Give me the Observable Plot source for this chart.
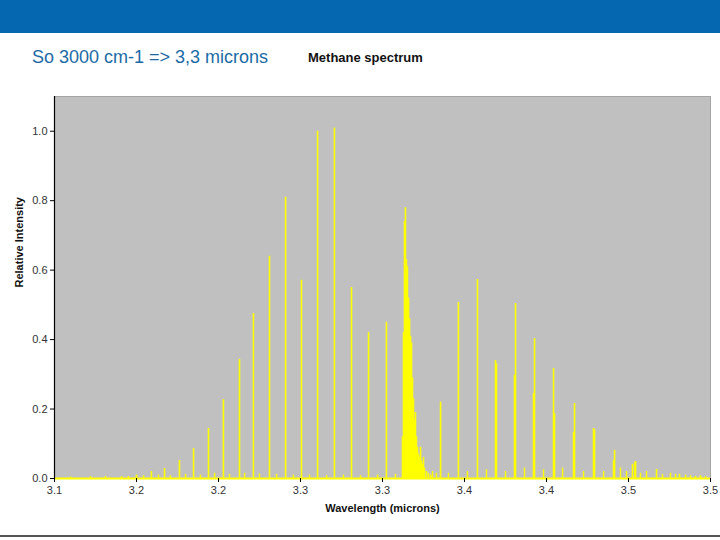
<!DOCTYPE html>
<html>
<head>
<meta charset="utf-8">
<script src="https://cdn.jsdelivr.net/npm/d3@7"></script>
<script src="https://cdn.jsdelivr.net/npm/@observablehq/plot@0.6"></script>
<style>
  html, body { margin: 0; padding: 0; background: #fff; }
  #page { position: relative; width: 720px; height: 540px; overflow: hidden; }
  #bar { position: absolute; left: 0; top: 0; width: 720px; height: 33px; background: #0467b0; }
  #note { position: absolute; left: 32px; top: 47px; font: 18px "Liberation Sans", Arial, sans-serif; color: #1b6aa5; white-space: nowrap; }
  #title { position: absolute; left: 308px; top: 50px; font: bold 13px "Liberation Sans", Arial, sans-serif; color: #111; white-space: nowrap; }
  #chart { position: absolute; left: 0; top: 80px; }
  #foot { position: absolute; left: 0; top: 535px; width: 720px; height: 2px; background: #555; }
</style>
</head>
<body>
<div id="page">
  <div id="bar"></div>
  <div id="note">So 3000 cm-1 =&gt; 3,3 microns</div>
  <div id="title">Methane spectrum</div>
  <div id="chart"></div>
  <div id="foot"></div>
</div>
<script>
// Strong rovibrational lines (wavelength in microns, relative intensity)
const mainWavelength = [3.1409, 3.1500, 3.1591, 3.1671, 3.1762, 3.1848, 3.1939, 3.2030, 3.2128, 3.2213,
  3.2311, 3.2409, 3.2506, 3.2604, 3.2707, 3.2811, 3.2915, 3.3024,
  3.3354, 3.3463, 3.3579, 3.3689, 3.3811, 3.3927, 3.4043, 3.4171, 3.4287, 3.4415, 3.4543, 3.4671, 3.4811, 3.4939];
const mainIntensity = [0.005, 0.010, 0.020, 0.029, 0.052, 0.086, 0.144, 0.227, 0.343, 0.475,
  0.640, 0.810, 0.571, 1.000, 1.009, 0.550, 0.420, 0.450,
  0.220, 0.507, 0.573, 0.340, 0.504, 0.403, 0.317, 0.216, 0.144, 0.081, 0.049, 0.026, 0.012, 0.008];

// Secondary (multiplet) components
const secondWavelength = [3.3695, 3.3805, 3.3921, 3.4049, 3.4165, 3.4293, 3.4409, 3.4537];
const secondIntensity  = [0.330, 0.297, 0.245, 0.187, 0.133, 0.140, 0.052, 0.045];

// Q-branch cluster
const qWavelength = [3.3122, 3.3128, 3.3134, 3.3140, 3.3146, 3.3152, 3.3159, 3.3165, 3.3171, 3.3177,
  3.3183, 3.3189, 3.3195, 3.3201, 3.3207, 3.3213, 3.3220, 3.3226, 3.3232, 3.3238,
  3.3244, 3.3250, 3.3256, 3.3268, 3.3280, 3.3293];
const qIntensity = [0.12, 0.42, 0.74, 0.78, 0.63, 0.61, 0.52, 0.46, 0.41, 0.39,
  0.29, 0.23, 0.17, 0.19, 0.12, 0.09, 0.07, 0.06, 0.09, 0.05,
  0.04, 0.06, 0.03, 0.02, 0.015, 0.01];

// Weak lines along the baseline
const weakWavelength = [3.1098, 3.1220, 3.1311, 3.1451, 3.1543, 3.1634, 3.1707, 3.1799, 3.1890, 3.1976,
  3.2067, 3.2159, 3.2250, 3.2354, 3.2457, 3.2555, 3.2659, 3.2762, 3.2866, 3.2970,
  3.3079, 3.3305, 3.3329, 3.3402, 3.3518, 3.3634, 3.3750, 3.3866, 3.3982, 3.4098,
  3.4226, 3.4348, 3.4451, 3.4488, 3.4524, 3.4573, 3.4610, 3.4707, 3.4756, 3.4787,
  3.4848, 3.4878, 3.4909, 3.4970];
const weakIntensity = [0.004, 0.005, 0.006, 0.006, 0.008, 0.010, 0.008, 0.012, 0.010, 0.015,
  0.012, 0.015, 0.013, 0.012, 0.010, 0.010, 0.008, 0.010, 0.008, 0.010,
  0.012, 0.020, 0.015, 0.015, 0.020, 0.025, 0.020, 0.030, 0.025, 0.030,
  0.020, 0.020, 0.030, 0.020, 0.040, 0.015, 0.020, 0.012, 0.015, 0.012,
  0.010, 0.008, 0.006, 0.005];

const xTicks = [3.10, 3.15, 3.20, 3.25, 3.30, 3.35, 3.40, 3.45, 3.50];
const xTickLabels = ["3.1", "3.2", "3.2", "3.3", "3.3", "3.4", "3.4", "3.5", "3.5"];
const yTicks = [0, 0.2, 0.4, 0.6, 0.8, 1.0];
const yTickLabels = ["0.0", "0.2", "0.4", "0.6", "0.8", "1.0"];

const toRows = (ws, vs) => ws.map((w, i) => ({w, v: vs[i]}));
const mainRows = toRows(mainWavelength, mainIntensity);
const secondRows = toRows(secondWavelength, secondIntensity);
const qRows = toRows(qWavelength, qIntensity);
const weakRows = toRows(weakWavelength, weakIntensity);

const xLabelMap = new Map(xTicks.map((t, i) => [Math.round(t * 100), xTickLabels[i]]));
const yLabelMap = new Map(yTicks.map((t, i) => [Math.round(t * 10), yTickLabels[i]]));

const yellow = "#ffff00";
const font = "'Liberation Sans Narrow', 'Liberation Sans', Arial, sans-serif";

const chart = Plot.plot({
  width: 720,
  height: 460,
  marginLeft: 54,
  marginRight: 10,
  marginTop: 16,
  marginBottom: 62,
  x: {domain: [3.1, 3.5]},
  y: {domain: [0, 1.1]},
  style: {background: "transparent", fontFamily: font, fontSize: "11px", color: "#333", overflow: "visible"},
  marks: [
    Plot.frame({fill: "#c0c0c0", stroke: "#a4a4a4"}),
    Plot.ruleX(weakRows, {x: "w", y1: 0, y2: "v", stroke: yellow, strokeWidth: 1.4}),
    Plot.ruleX(secondRows, {x: "w", y1: 0, y2: "v", stroke: yellow, strokeWidth: 1.6}),
    Plot.ruleX(qRows, {x: "w", y1: 0, y2: "v", stroke: yellow, strokeWidth: 1.6}),
    Plot.ruleX(mainRows, {x: "w", y1: 0, y2: "v", stroke: yellow, strokeWidth: 1.6}),
    Plot.ruleY([0], {stroke: yellow, strokeWidth: 2}),
    Plot.ruleX([3.1], {stroke: "#000", strokeWidth: 1.2}),
    Plot.axisX({ticks: xTicks, tickFormat: d => xLabelMap.get(Math.round(d * 100)), tickSize: 4, tickPadding: 4, label: null, stroke: "#000"}),
    Plot.axisY({ticks: yTicks, tickFormat: d => yLabelMap.get(Math.round(d * 10)), tickSize: 4, tickPadding: 3, label: null, stroke: "#000"}),
    Plot.text(["Wavelength (microns)"], {frameAnchor: "bottom", dy: 33, fontWeight: "bold", fontSize: 11, fill: "#111", fontFamily: font}),
    Plot.text(["Relative Intensity"], {frameAnchor: "left", dx: -35, rotate: -90, fontWeight: "bold", fontSize: 11, fill: "#111", fontFamily: font})
  ]
});
document.getElementById("chart").appendChild(chart);
</script>
</body>
</html>
